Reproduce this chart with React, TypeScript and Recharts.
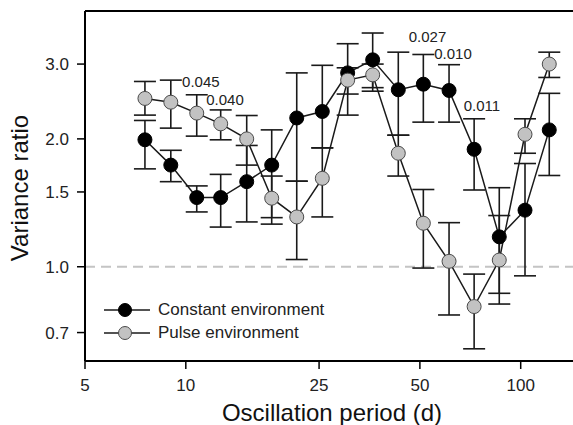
import React from 'react';
import {
  ComposedChart,
  Line,
  XAxis,
  YAxis,
  ErrorBar,
  ReferenceLine,
  ReferenceDot,
  Legend,
} from 'recharts';

// Oscillation periods (d)
const periods = [7.55, 9.02, 10.78, 12.71, 15.2, 18.05, 21.44, 25.56, 30.43, 36.14, 43.1, 51.2, 61.1, 72.6, 86.3, 103.0, 121.7];

// Constant environment
const constantMean = [1.99, 1.735, 1.455, 1.455, 1.586, 1.735, 2.24, 2.32, 2.86, 3.07, 2.61, 2.69, 2.6, 1.89, 1.176, 1.359, 2.1];
const constantLow = [1.7, 1.586, 1.346, 1.24, 1.275, 1.26, 1.59, 1.905, 2.275, 2.59, 2.04, 2.19, 2.19, 1.516, 0.866, 0.952, 1.64];
const constantHigh = [2.21, 1.88, 1.55, 1.65, 1.93, 2.1, 2.86, 2.98, 3.35, 3.55, 3.2, 3.16, 2.99, 2.23, 1.535, 1.75, 2.56];

// Pulse environment
const pulseMean = [2.49, 2.44, 2.3, 2.17, 2.0, 1.45, 1.31, 1.615, 2.75, 2.83, 1.85, 1.266, 1.03, 0.806, 1.037, 2.05, 3.0];
const pulseLow = [2.275, 2.12, 2.03, 1.99, 1.735, 1.305, 1.04, 1.31, 2.55, 2.64, 1.635, 0.993, 0.77, 0.641, 0.817, 1.85, 2.79];
const pulseHigh = [2.73, 2.75, 2.54, 2.34, 2.27, 1.635, 1.59, 1.905, 2.94, 3.0, 2.04, 1.52, 1.27, 0.961, 1.32, 2.23, 3.2];

const seriesNames = ['Constant environment', 'Pulse environment'];

const xTicks = [5, 10, 25, 50, 100];
const yTicks = [0.7, 1.0, 1.5, 2.0, 3.0];
// the plot continues past the right edge of the cropped figure
const xDomain = [5, 172.5];
const yDomain = [0.6, 4.0];

// p-value annotations (text centre in data coordinates)
const annotationText = ['0.045', '0.040', '0.027', '0.010', '0.011'];
const annotationPeriod = [11.09, 13.09, 52.7, 62.8, 76.6];
const annotationValue = [2.73, 2.48, 3.485, 3.175, 2.4];

const data = periods.map((p, i) => ({
  period: p,
  constant: constantMean[i],
  constantErr: [constantMean[i] - constantLow[i], constantHigh[i] - constantMean[i]],
  pulse: pulseMean[i],
  pulseErr: [pulseMean[i] - pulseLow[i], pulseHigh[i] - pulseMean[i]],
}));

const FONT = '"Liberation Sans", Arial, Helvetica, sans-serif';
const BLACK_FILL = '#000000';
const GRAY_FILL = '#c2c2c2';
const GRAY_STROKE = '#4a4a4a';
const LINE_COLOR = '#1a1a1a';

const renderLegend = () => {
  const fills = [BLACK_FILL, GRAY_FILL];
  const strokes = ['#000000', GRAY_STROKE];
  return (
    <div style={{ fontFamily: FONT }}>
      {seriesNames.map((name, i) => (
        <div key={name} style={{ display: 'flex', alignItems: 'center', height: 22.6 }}>
          <svg width={46} height={22} style={{ display: 'block' }}>
            <line x1={0} x2={46} y1={11} y2={11} stroke={LINE_COLOR} strokeWidth={1.5} />
            <circle cx={21} cy={11} r={6.5} fill={fills[i]} stroke={strokes[i]} strokeWidth={1} />
          </svg>
          <span style={{ marginLeft: 8, fontSize: 17, color: '#222', lineHeight: '22px', whiteSpace: 'nowrap' }}>{name}</span>
        </div>
      ))}
    </div>
  );
};

export default function App() {
  return (
    <div style={{ position: 'absolute', left: 0, top: 0, width: 573, height: 425, background: '#fff', overflow: 'hidden' }}>
      <ComposedChart
        width={600}
        height={425}
        data={data}
        margin={{ top: 10, right: 0, bottom: 0, left: 0 }}
        style={{ fontFamily: FONT }}
      >
        <XAxis
          dataKey="period"
          type="number"
          scale="log"
          domain={xDomain}
          allowDataOverflow
          ticks={xTicks}
          height={64}
          axisLine={{ stroke: '#000', strokeWidth: 2 }}
          tickLine={{ stroke: '#000', strokeWidth: 1.5 }}
          tickSize={8}
          tickMargin={10}
          tick={{ fill: '#222', fontSize: 17, fontFamily: FONT }}
          label={{
            content: (props: any) => {
              const vb = props.viewBox;
              return (
                <text x={vb.x + 247} y={421} textAnchor="middle" fontSize={24} fill="#111" fontFamily={FONT}>
                  Oscillation period (d)
                </text>
              );
            },
          }}
        />
        <XAxis
          xAxisId="top"
          orientation="top"
          dataKey="period"
          type="number"
          scale="log"
          domain={xDomain}
          allowDataOverflow
          height={1}
          tick={false}
          tickLine={false}
          axisLine={{ stroke: '#000', strokeWidth: 2 }}
        />
        <YAxis
          type="number"
          scale="log"
          domain={yDomain}
          allowDataOverflow
          ticks={yTicks}
          width={85}
          axisLine={{ stroke: '#000', strokeWidth: 2 }}
          tickLine={{ stroke: '#000', strokeWidth: 1.5 }}
          tickSize={8}
          tickMargin={8}
          tickFormatter={(v: number) => v.toFixed(1)}
          tick={{ fill: '#222', fontSize: 17, fontFamily: FONT }}
          label={{
            content: (props: any) => {
              const vb = props.viewBox;
              return (
                <text
                  transform={`translate(${vb.x + 19}, 188) rotate(-90)`}
                  textAnchor="middle"
                  dominantBaseline="central"
                  fontSize={24}
                  fill="#111"
                  fontFamily={FONT}
                >
                  Variance ratio
                </text>
              );
            },
          }}
        />
        <ReferenceLine y={1} stroke="#c4c4c4" strokeWidth={2} strokeDasharray="10 6" />
        <Line
          name={seriesNames[0]}
          dataKey="constant"
          stroke={LINE_COLOR}
          strokeWidth={1.5}
          dot={{ r: 7, fill: BLACK_FILL, stroke: '#000', strokeWidth: 1 }}
          activeDot={false}
          isAnimationActive={false}
        >
          <ErrorBar dataKey="constantErr" width={11} stroke="#1a1a1a" strokeWidth={1.6} direction="y" />
        </Line>
        <Line
          name={seriesNames[1]}
          dataKey="pulse"
          stroke={LINE_COLOR}
          strokeWidth={1.5}
          dot={{ r: 7, fill: GRAY_FILL, stroke: GRAY_STROKE, strokeWidth: 1 }}
          activeDot={false}
          isAnimationActive={false}
        >
          <ErrorBar dataKey="pulseErr" width={11} stroke="#1a1a1a" strokeWidth={1.6} direction="y" />
        </Line>
        {annotationText.map((t, i) => (
          <ReferenceDot
            key={t + i}
            x={annotationPeriod[i]}
            y={annotationValue[i]}
            r={0}
            fill="none"
            stroke="none"
            label={{
              content: (props: any) => {
                const vb = props.viewBox;
                return (
                  <text
                    x={vb.x + vb.width / 2}
                    y={vb.y + vb.height / 2}
                    textAnchor="middle"
                    dominantBaseline="central"
                    fontSize={15}
                    fill="#222"
                    fontFamily={FONT}
                  >
                    {t}
                  </text>
                );
              },
            }}
          />
        ))}
        <Legend
          layout="vertical"
          align="center"
          verticalAlign="middle"
          content={renderLegend}
          wrapperStyle={{ position: 'absolute', left: 104, top: 299, width: 260, bottom: 'auto', right: 'auto' }}
        />
      </ComposedChart>
    </div>
  );
}
